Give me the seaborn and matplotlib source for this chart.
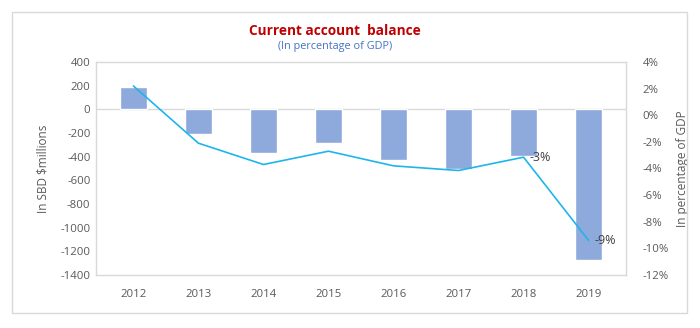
import matplotlib
matplotlib.use("Agg")
import matplotlib.pyplot as plt
import seaborn as sns
import numpy as np
import pandas as pd
from matplotlib.patches import Rectangle
from matplotlib.ticker import FuncFormatter

years = ["2012", "2013", "2014", "2015", "2016", "2017", "2018", "2019"]
balance_sbd = [188, -205, -370, -283, -428, -503, -397, -1272]
balance_pct = [2.2, -2.1, -3.7, -2.7, -3.8, -4.15, -3.15, -9.4]
label_text = {6: "-3%", 7: "-9%"}

sns.set_theme(style="white")
plt.rcParams['font.family'] = ['Open Sans', 'DejaVu Sans']
plt.rcParams['axes.unicode_minus'] = False

grey = "#595959"
bar_col = "#8EA9DB"
line_col = "#1FB5EC"

fig = plt.figure(figsize=(7, 3.28), dpi=100)
fig.patches.append(Rectangle((12/700, 1-313/328), 675/700, 301/328, transform=fig.transFigure,
                             fill=False, edgecolor="#D9D9D9", linewidth=1))
ax = fig.add_axes([96/700, 1-275/328, 530/700, 213/328])

df = pd.DataFrame({"year": years, "sbd": balance_sbd})
sns.barplot(data=df, x="year", y="sbd", color=bar_col, saturation=1, width=0.41, ax=ax)
ax.set_ylim(-1400, 400)
ax.set_yticks(np.arange(-1400, 401, 200))
ax.axhline(0, color="#D9D9D9", linewidth=1, zorder=0.5)
ax.set_xlabel("")
ax.set_ylabel("In SBD $millions", color=grey, fontsize=8.5, labelpad=8)
ax.tick_params(axis="both", colors=grey, labelsize=8.2, length=0, pad=4)
ax.tick_params(axis="x", pad=10)
for s in ax.spines.values():
    s.set_color("#D9D9D9")
    s.set_linewidth(1)

ax2 = ax.twinx()
sns.lineplot(x=np.arange(len(years)), y=balance_pct, color=line_col, linewidth=1.2, ax=ax2)
ax2.set_ylim(-12, 4)
ax2.set_yticks(np.arange(-12, 5, 2))
ax2.yaxis.set_major_formatter(FuncFormatter(lambda v, p: f"{int(v)}%"))
ax2.set_ylabel("In percentage of GDP", color=grey, fontsize=8.5, labelpad=5)
ax2.tick_params(axis="y", colors=grey, labelsize=8.2, length=0, pad=12)
for s in ax2.spines.values():
    s.set_visible(False)
for i, t in label_text.items():
    ax2.annotate(t, (i, balance_pct[i]), xytext=(4, 0), textcoords="offset points",
                 ha="left", va="center", fontsize=9, color="#404040")

fig.text(335/700, 1-31/328, "Current account  balance", ha="center", va="center",
         color="#C00000", fontsize=9.8, fontweight="bold")
fig.text(335/700, 1-46/328, "(In percentage of GDP)", ha="center", va="center",
         color="#4472C4", fontsize=7.8)

fig.savefig("out.png", dpi=100)
